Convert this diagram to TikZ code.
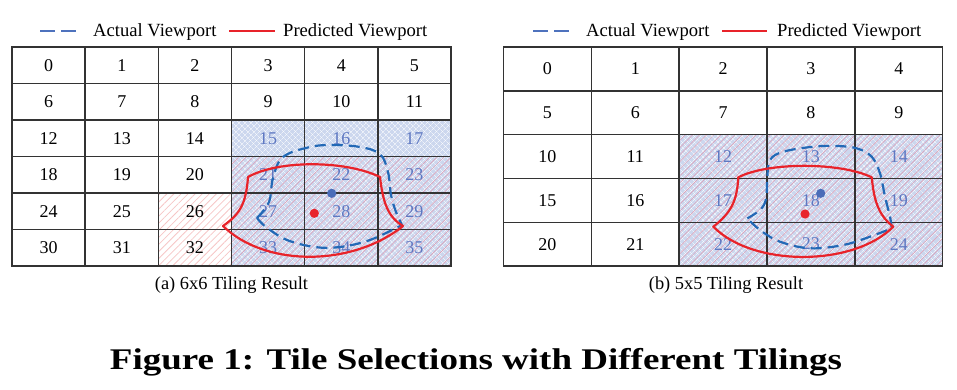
\documentclass[tikz,border=0pt]{standalone}
\usepackage{fontspec}
\usepackage{graphicx}
\setmainfont{Liberation Serif}
\usetikzlibrary{patterns.meta}
\definecolor{gridc}{HTML}{333333}
\definecolor{tileblue}{HTML}{CCD7EE}
\definecolor{numblue}{HTML}{5E78C2}
\definecolor{predred}{HTML}{E8232A}
\definecolor{actblue}{HTML}{2369B6}
\definecolor{legblue}{HTML}{4E72BD}
\definecolor{dotblue}{HTML}{4A6CB8}
\definecolor{hatchred}{HTML}{DE9CB2}
\definecolor{hatchpink}{HTML}{F6C6C6}
\tikzset{
  tile/.style={inner sep=0pt, font=\fontsize{18}{20}\selectfont},
  tileA/.style={tile, minimum width=73.17pt, minimum height=36.5pt},
  tileB/.style={tile, minimum width=87.84pt, minimum height=43.8pt},
  border/.style={postaction={draw=gridc, line width=1.4pt}},
  bluehatch/.style={fill=tileblue, text=numblue,
    postaction={pattern={Lines[angle=45,distance=4pt,line width=0.35pt]}, pattern color=white},
    postaction={pattern={Lines[angle=-45,distance=4pt,line width=0.35pt]}, pattern color=white}},
  redhatch/.style={postaction={pattern={Lines[angle=45,distance=5pt,line width=0.5pt]}, pattern color=hatchred}},
  pinkhatch/.style={postaction={pattern={Lines[angle=45,distance=5pt,line width=0.8pt]}, pattern color=hatchpink}},
  predline/.style={draw=predred, line width=2.2pt, line join=round},
  actline/.style={draw=actblue, line width=2.2pt, dash pattern=on 11pt off 6pt},
  legact/.style={draw=legblue, line width=2.4pt, dash pattern=on 15pt off 6pt},
  legpred/.style={draw=predred, line width=2pt},
  legtext/.style={anchor=base west, inner sep=0pt, font=\fontsize{18.6}{20}\selectfont},
  captext/.style={anchor=base, inner sep=0pt, font=\fontsize{18.4}{20}\selectfont},
}
\begin{document}
\begin{tikzpicture}[x=1pt,y=-1pt]
\useasboundingbox (0,0) rectangle (957,389);
% ---------- left grid 6x6 ----------
\foreach \i in {0,1,2,3,4,5,6,7,8,9,10,11,12,13,14,18,19,20,24,25,30,31}{
  \pgfmathtruncatemacro\cc{mod(\i,6)}\pgfmathtruncatemacro\rr{div(\i,6)}
  \node[tileA, border] (a\i) at ({12+(\cc+0.5)*73.17},{47+(\rr+0.5)*36.5}) {\i};}
\foreach \i in {26,32}{
  \pgfmathtruncatemacro\cc{mod(\i,6)}\pgfmathtruncatemacro\rr{div(\i,6)}
  \node[tileA, pinkhatch, border] (a\i) at ({12+(\cc+0.5)*73.17},{47+(\rr+0.5)*36.5}) {\i};}
\foreach \i in {15,16,17}{
  \pgfmathtruncatemacro\cc{mod(\i,6)}\pgfmathtruncatemacro\rr{div(\i,6)}
  \node[tileA, bluehatch, border] (a\i) at ({12+(\cc+0.5)*73.17},{47+(\rr+0.5)*36.5}) {\i};}
\foreach \i in {21,22,23,27,28,29,33,34,35}{
  \pgfmathtruncatemacro\cc{mod(\i,6)}\pgfmathtruncatemacro\rr{div(\i,6)}
  \node[tileA, bluehatch, redhatch, border] (a\i) at ({12+(\cc+0.5)*73.17},{47+(\rr+0.5)*36.5}) {\i};}
% ---------- right grid 5x5 ----------
\foreach \i in {0,1,2,3,4,5,6,7,8,9,10,11,15,16,20,21}{
  \pgfmathtruncatemacro\cc{mod(\i,5)}\pgfmathtruncatemacro\rr{div(\i,5)}
  \node[tileB, border] (b\i) at ({503.5+(\cc+0.5)*87.84},{47+(\rr+0.5)*43.8}) {\i};}
\foreach \i in {12,13,14,17,18,19,22,23,24}{
  \pgfmathtruncatemacro\cc{mod(\i,5)}\pgfmathtruncatemacro\rr{div(\i,5)}
  \node[tileB, bluehatch, redhatch, border] (b\i) at ({503.5+(\cc+0.5)*87.84},{47+(\rr+0.5)*43.8}) {\i};}
% ---------- left viewports ----------
\draw[actline] plot[smooth, tension=0.6] coordinates {(257,218) (269,202) (273,178) (283,157) (310,147) (333,145) (360,147) (380,154) (388,172) (391,195) (396,212) (402,225)}
  -- plot[smooth, tension=0.6] coordinates {(402,225) (370,240) (340,247) (315,247) (287,240) (266,227) (257,218)};
\draw[predline] (248,177) .. controls (278,160) and (345,160) .. (380,177)
  .. controls (383,203) and (388,217) .. (403,226)
  .. controls (352,267) and (265,267) .. (223,226)
  .. controls (240,214) and (246,204) .. cycle;
\fill[dotblue] (331.7,193.3) circle (4.6pt);
\fill[predred] (314.3,213.3) circle (4.6pt);
% ---------- right viewports ----------
\draw[actline] plot[smooth, tension=0.6] coordinates {(747.3,218.3) (760,210) (766,199) (767.3,177) (770,160) (783.3,151.7) (813.3,146.7) (836.7,146) (856.7,148.3) (871.7,156.7) (880,173.3) (885,196.7) (890,216.7) (891.7,228.3)}
  -- plot[smooth, tension=0.6] coordinates {(891.7,228.3) (870,236.7) (843.3,245) (810,248.3) (780,241.7) (760,230) (747.3,218.3)};
\draw[predline] (738.3,177.3) .. controls (768,162) and (840,162) .. (871.7,177.3)
  .. controls (874,200) and (878,215) .. (893.3,226.7)
  .. controls (853,267) and (753,267) .. (713.3,226.7)
  .. controls (732,212) and (737,200) .. cycle;
\fill[dotblue] (820.7,193.3) circle (4.6pt);
\fill[predred] (805,214) circle (4.6pt);
% ---------- legends ----------
\coordinate (la1) at (40,30.7); \coordinate (la2) at (78,30.7);
\coordinate (lp1) at (229,30.7); \coordinate (lp2) at (275,30.7);
\draw[legact] (la1) -- (la2);
\draw[legpred] (lp1) -- (lp2);
\node[legtext] (lat) at (93,36) {Actual Viewport};
\node[legtext] (lpt) at (283,36) {Predicted Viewport};
\coordinate (ra1) at (533,30.7); \coordinate (ra2) at (572,30.7);
\coordinate (rp1) at (722,30.7); \coordinate (rp2) at (767,30.7);
\draw[legact] (ra1) -- (ra2);
\draw[legpred] (rp1) -- (rp2);
\node[legtext] (rat) at (586,36) {Actual Viewport};
\node[legtext] (rpt) at (777,36) {Predicted Viewport};
% ---------- captions ----------
\node[captext] (capa) at (231.5,289.5) {(a) 6x6 Tiling Result};
\node[captext] (capb) at (726,289.5) {(b) 5x5 Tiling Result};
\node[anchor=base, inner sep=0pt] (title) at (476,369.3) {\resizebox{732pt}{\height}{\fontsize{30}{32}\selectfont\bfseries Figure 1: Tile Selections with Different Tilings}};
\end{tikzpicture}
\end{document}
